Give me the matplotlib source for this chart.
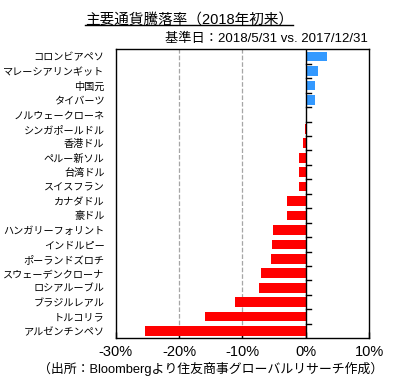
import numpy as np
import matplotlib
matplotlib.use("Agg")
import matplotlib.pyplot as plt
from matplotlib.lines import Line2D

plt.rcParams['font.family'] = ['Liberation Sans', 'Noto Sans CJK JP']

# ----------------------------
# DATA
# ----------------------------

currencies = ["コロンビアペソ", "マレーシアリンギット", "中国元", "タイバーツ",
              "ノルウェークローネ", "シンガポールドル", "香港ドル", "ペルー新ソル",
              "台湾ドル", "スイスフラン", "カナダドル", "豪ドル",
              "ハンガリーフォリント", "インドルピー", "ポーランドズロチ",
              "スウェーデンクローナ", "ロシアルーブル", "ブラジルレアル",
              "トルコリラ", "アルゼンチンペソ"]
change_pct = [3.4, 2.0, 1.5, 1.5, 0.2, -0.2, -0.4, -1.0, -1.15, -1.15,
              -3.0, -3.0, -5.2, -5.4, -5.5, -7.1, -7.4, -11.2, -15.9, -25.3]
xticks = [-30, -20, -10, 0, 10]

title = "主要通貨騰落率（2018年初来）"
subtitle = "基準日：2018/5/31 vs. 2017/12/31"
source = "（出所：Bloombergより住友商事グローバルリサーチ作成）"

# ----------------------------
# PLOT
# ----------------------------

fig = plt.figure(figsize=(3.93, 3.90), dpi=100)
ax = fig.add_axes([0.294, 0.1326, 0.6455, 0.741])

n = len(currencies)
y = np.arange(n)
vals = np.array(change_pct)
colors = np.where(vals >= 0, "#3399FF", "#FF0000")
ax.barh(y, vals, height=0.67, color=colors, zorder=3)

ax.set_xlim(-30, 10)
ax.set_ylim(n - 0.5, -0.5)
ax.set_xticks(xticks)
ax.set_xticklabels([f"{t}%" for t in xticks], fontsize=10.5)
ax.tick_params(axis="x", direction="in", length=4, pad=5, width=1)
ax.set_yticks(y)
ax.set_yticklabels(currencies, fontsize=7.3)
ax.tick_params(axis="y", length=0, pad=8)

# grid + zero line
for t in xticks[1:-1]:
    if t != 0:
        ax.axvline(t, color="#A6A6A6", linestyle="--", linewidth=0.9, zorder=1)
ax.axvline(0, color="black", linewidth=1, zorder=4)

# category ticks on the zero line
for b in np.arange(0.5, n - 1):
    ax.plot([0, 0.8], [b, b], color="black", linewidth=1, zorder=4)

for s in ax.spines.values():
    s.set_linewidth(1)

t = fig.text(0.481, 0.949, title, ha="center", va="center", fontsize=10.5)
fig.text(0.937, 0.901, subtitle, ha="right", va="center", fontsize=9.5)
fig.text(0.537, 0.053, source, ha="center", va="center", fontsize=9.3)

# underline the title
fig.canvas.draw()
bb = t.get_window_extent().transformed(fig.transFigure.inverted())
fig.lines.append(Line2D([bb.x0, bb.x1], [bb.y0 + 0.004, bb.y0 + 0.004],
                        transform=fig.transFigure, color="black", linewidth=1))

fig.savefig("out.png", dpi=100)
